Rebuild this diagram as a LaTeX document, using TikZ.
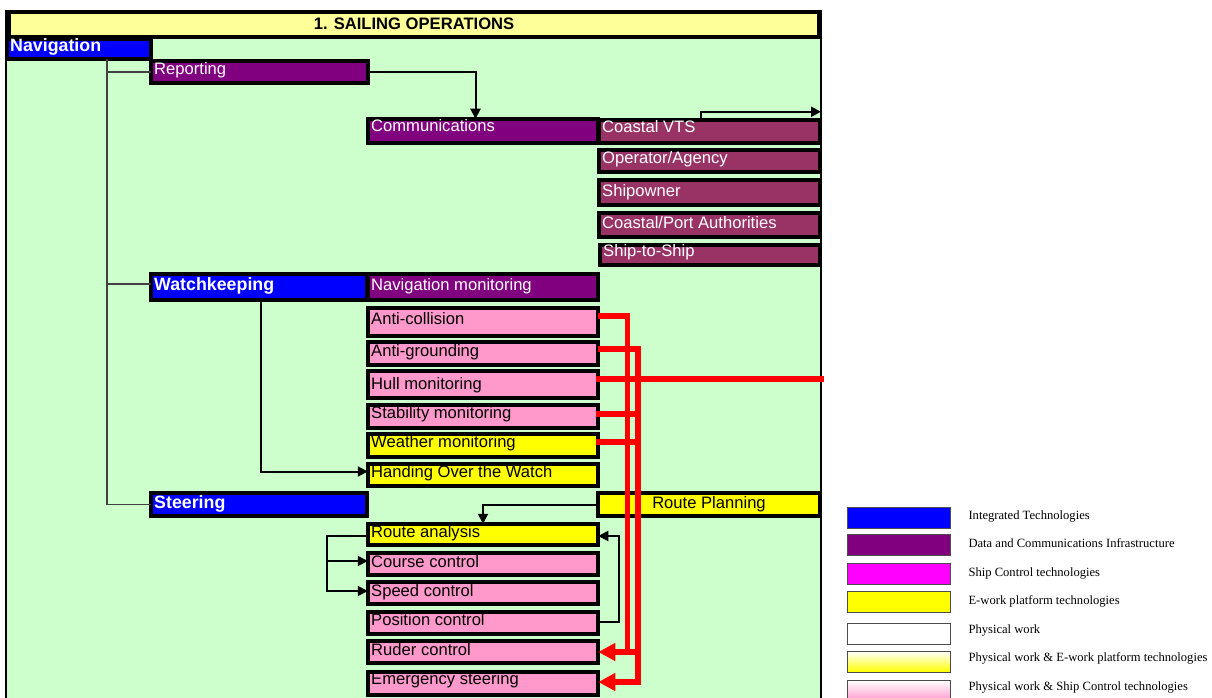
\documentclass[tikz,border=0pt]{standalone}
\usepackage{fontspec}
\setmainfont{Liberation Sans}
\newfontfamily\legendfont{Liberation Serif}
\usetikzlibrary{arrows.meta}

\definecolor{bgGreen}{HTML}{CCFFCC}
\definecolor{titleYellow}{HTML}{FFFF99}
\definecolor{techBlue}{HTML}{0000FF}
\definecolor{dataPurple}{HTML}{800080}
\definecolor{linkMaroon}{HTML}{993366}
\definecolor{ctrlPink}{HTML}{FF99CC}
\definecolor{eYellow}{HTML}{FFFF00}
\definecolor{ctrlMagenta}{HTML}{FF00FF}
\definecolor{alarmRed}{HTML}{FF0000}

% #1 name, #2 fill, #3 text style, #4-#7 outer box x1,y1,x2,y2, #8 baseline, #9 label
\newcommand\taskbox[9]{%
  \node[box, fill=#2, minimum width={#6-#4-3.5}, minimum height={#7-#5-3.5}]
    (#1) at ({(#4+#6)/2},{(#5+#7)/2}) {};
  \node[#3, anchor=base west] (#1-t) at ({#4+5},#8) {#9};
}
% #1 name, #2 fill/shading, #3 top y, #4 baseline, #5 label
\newcommand\keyentry[5]{%
  \node[key, #2, anchor=north west] (#1) at (847,#3) {};
  \node[keytxt] (#1-t) at (968.3,#4) {#5};
}

\tikzset{
  box/.style={draw=black, line width=3.7pt, inner sep=0pt, outer sep=0pt},
  tw/.style={text=white, font=\fontsize{16.6}{19}\selectfont, inner sep=0pt},
  tb/.style={text=black, font=\fontsize{16.6}{19}\selectfont, inner sep=0pt},
  hd/.style={text=white, font=\fontsize{17.8}{20}\selectfont\bfseries, inner sep=0pt},
  tree/.style={draw=black!75, line width=1.3pt},
  link/.style={draw=black, line width=2pt, -{Triangle[length=10pt,width=10pt]}},
  alarm/.style={draw=alarmRed, line width=5.5pt, line cap=rect},
  alarmarr/.style={draw=alarmRed, line width=5.5pt, -{Triangle[length=17pt,width=17pt]}},
  key/.style={draw=black!70, line width=1pt, minimum width=103pt, minimum height=21pt,
    inner sep=0pt, outer sep=0pt},
  keytxt/.style={font=\legendfont\fontsize{12.6}{14}\selectfont, anchor=base west, inner sep=0pt},
}

\begin{document}
\begin{tikzpicture}[x=1pt, y=-1pt]
\useasboundingbox (0,0) rectangle (1212,698);
\fill[white] (0,0) rectangle (1212,698);
\clip (0,0) rectangle (1212,698);

% operations panel
\node[draw=black, line width=2pt, fill=bgGreen, minimum width=815pt, minimum height=700pt,
  anchor=north west, inner sep=0pt, outer sep=0pt] (frame) at (6,11) {};
\node[box, fill=titleYellow, minimum width={821-7-3.5}, minimum height={39-10-3.5}]
  (title) at (414,24.5) {};
\node[font=\fontsize{16.6}{19}\selectfont\bfseries, anchor=base, inner sep=0pt]
  (title-t) at (414,30) {1. SAILING OPERATIONS};

% navigation branch
\taskbox{nav}{techBlue}{hd}{5}{37}{153}{61}{51.7}{Navigation}
\taskbox{rep}{dataPurple}{tw}{149}{59}{370}{85}{75}{Reporting}
\taskbox{comm}{dataPurple}{tw}{366}{117}{600}{145}{131.7}{Communications}
\taskbox{vts}{linkMaroon}{tw}{597}{118}{822}{145}{132.3}{Coastal VTS}
\taskbox{op}{linkMaroon}{tw}{597}{148}{822}{174}{164}{Operator/Agency}
\taskbox{own}{linkMaroon}{tw}{597}{178}{822}{207}{196.7}{Shipowner}
\taskbox{auth}{linkMaroon}{tw}{597}{211}{822}{239}{228.3}{Coastal/Port Authorities}
\taskbox{sts}{linkMaroon}{tw}{598}{243}{822}{267}{256.7}{Ship-to-Ship}

% watchkeeping branch
\taskbox{wk}{techBlue}{hd}{149}{272}{369}{302}{290.7}{Watchkeeping}
\taskbox{nm}{dataPurple}{tw}{366}{272}{600}{302}{290}{Navigation monitoring}
\taskbox{ac}{ctrlPink}{tb}{366}{306}{600}{338}{324}{Anti-collision}
\taskbox{ag}{ctrlPink}{tb}{366}{340}{600}{367}{356}{Anti-grounding}
\taskbox{hull}{ctrlPink}{tb}{366}{369}{600}{400}{389.3}{Hull monitoring}
\taskbox{stab}{ctrlPink}{tb}{366}{403}{600}{430}{418.3}{Stability monitoring}
\taskbox{wm}{eYellow}{tb}{366}{432}{600}{459}{447.3}{Weather monitoring}
\taskbox{hand}{eYellow}{tb}{366}{462}{600}{488}{477.3}{Handing Over the Watch}

% steering branch
\taskbox{steer}{techBlue}{hd}{149}{491}{369}{518}{508.3}{Steering}
\node[box, fill=eYellow, minimum width={822-596-3.5}, minimum height={518-491-3.5}]
  (rp) at (709,504.5) {};
\node[tb, anchor=base] (rp-t) at (709,508.3) {Route Planning};
\taskbox{ra}{eYellow}{tb}{366}{522}{600}{547}{537.3}{Route analysis}
\taskbox{cc}{ctrlPink}{tb}{366}{551}{600}{577}{567.3}{Course control}
\taskbox{sc}{ctrlPink}{tb}{366}{580}{600}{606}{596}{Speed control}
\taskbox{pc}{ctrlPink}{tb}{366}{610}{600}{636}{625}{Position control}
\taskbox{rud}{ctrlPink}{tb}{366}{639}{600}{665}{655}{Ruder control}
\taskbox{em}{ctrlPink}{tb}{366}{670}{600}{697}{684}{Emergency steering}

% hierarchy lines
\coordinate (trunk) at (107,0);
\coordinate (wkL) at ([yshift=3pt]wk.west);
\draw[tree] (nav.south -| trunk) |- (steer.west);
\draw[tree] (trunk |- rep.west) -- (rep.west);
\draw[tree] (trunk |- wkL) -- (wkL);

% information flows
\draw[link] (rep.east) -| ([xshift=-7.5pt]comm.north);
\coordinate (vtsup) at ([yshift=8pt]vts.north);
\draw[link] ([xshift=-9pt]vts.north) |- (vtsup -| frame.east);
\draw[link] ([xshift=2pt]wk.south) |- ([yshift=3.5pt]hand.west);
\draw[link] (rp.west) -| (ra.north);
\coordinate (raL) at ([yshift=-1.5pt]ra.west);
\coordinate (rabr) at ([xshift=-41pt]raL);
\draw[link] (raL) -- (rabr) |- ([yshift=3pt]cc.west);
\draw[link] (rabr) |- ([yshift=2pt]sc.west);
\coordinate (pcR) at ([yshift=1pt]pc.east);
\draw[link] (pcR) -- ([xshift=21pt]pcR) |- ([yshift=-1.5pt]ra.east);

% alarm routes
\coordinate (v1) at (627.5,0);
\coordinate (v2) at (638,0);
\coordinate (acR) at ([yshift=6pt]ac.east);
\coordinate (agR) at ([yshift=4.5pt]ag.east);
\coordinate (hullR) at ([yshift=5.5pt]hull.east);
\coordinate (stabR) at ([yshift=2.5pt]stab.east);
\coordinate (wmR) at ([yshift=3.5pt]wm.east);
\coordinate (emR) at ([yshift=1.5pt]em.east);
\draw[alarm] (hullR) -- (hullR -| frame.east);
\draw[alarm] (stabR) -- (stabR -| v2);
\draw[alarm] (wmR) -- (wmR -| v2);
\draw[alarm] (v2 |- rud.east) -- (v1 |- rud.east);
\draw[alarmarr] (acR) -| (v1 |- rud.east) -- (rud.east);
\draw[alarmarr] (agR) -| (v2 |- emR) -- (emR);

% legend
\keyentry{k1}{fill=techBlue}{507}{519}{Integrated Technologies}
\keyentry{k2}{fill=dataPurple}{534.5}{547.3}{Data and Communications Infrastructure}
\keyentry{k3}{fill=ctrlMagenta}{563}{576}{Ship Control technologies}
\keyentry{k4}{fill=eYellow}{591}{604.3}{E-work platform technologies}
\keyentry{k5}{fill=white}{623}{633.3}{Physical work}
\keyentry{k6}{top color=white, bottom color=eYellow}{651}{661.7}{Physical work \& E-work platform technologies}
\keyentry{k7}{top color=white, bottom color=ctrlPink}{680}{690}{Physical work \& Ship Control technologies}
\end{tikzpicture}
\end{document}
